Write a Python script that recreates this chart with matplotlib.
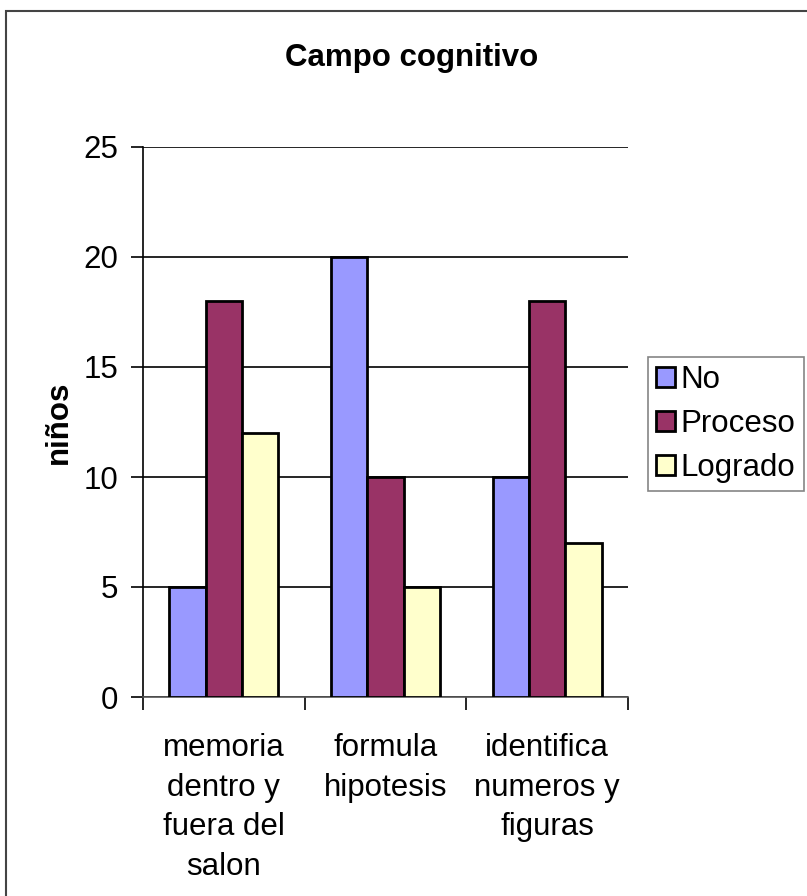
import numpy as np
import matplotlib.pyplot as plt
from matplotlib.patches import Rectangle

categories = ["memoria\ndentro y\nfuera del\nsalon", "formula\nhipotesis", "identifica\nnumeros y\nfiguras"]
no = [5, 20, 10]
proceso = [18, 10, 18]
logrado = [12, 5, 7]
series_names = ["No", "Proceso", "Logrado"]
colors = ["#9999FF", "#993366", "#FFFFCC"]

plt.rcParams['font.family'] = ['Liberation Sans', 'DejaVu Sans']
fs = 22.5

fig = plt.figure(figsize=(8.07, 8.96), dpi=100)
# chart border (only top/left visible in the frame)
fig.patches.append(Rectangle((6 / 807, -0.5), 2, 1.5 - 11 / 896, transform=fig.transFigure,
                             fill=False, edgecolor="#444444", linewidth=1.5))

ax = fig.add_axes([143 / 807, 1 - 697 / 896, 485 / 807, 550 / 896])
x = np.arange(len(categories))
w = 0.225
for i, (vals, name, c) in enumerate(zip([no, proceso, logrado], series_names, colors)):
    ax.bar(x + (i - 1) * w, vals, w, color=c, edgecolor="black", linewidth=2,
           label=name, zorder=3)

ax.set_xlim(-0.5, 2.5)
ax.set_ylim(0, 25)
ax.set_yticks(range(0, 26, 5))
ax.yaxis.grid(True, color="black", linewidth=1.2)
ax.set_axisbelow(True)
ax.set_xticks([-0.5, 0.5, 1.5, 2.5], minor=False)
ax.set_xticklabels([])
ax.set_xticks(x, minor=True)
ax.set_xticklabels(categories, minor=True, fontsize=fs, linespacing=1.42)
ax.tick_params(axis="x", which="minor", length=0, pad=26)
ax.tick_params(axis="x", which="major", length=9, width=1.2, direction="out")
ax.tick_params(axis="y", length=9, width=1.2, labelsize=fs, pad=9)
for s in ["top", "right"]:
    ax.spines[s].set_visible(False)
ax.spines["left"].set_linewidth(1.2)
ax.spines["bottom"].set_linewidth(1.2)
ax.spines["bottom"].set_color("#555555")

ax.set_ylabel("niños", fontsize=fs, fontweight="bold", labelpad=7)
fig.text(412 / 807, 1 - 58 / 896, "Campo cognitivo", fontsize=fs, fontweight="bold",
         ha="center", va="center")

leg = ax.legend(loc="center left", bbox_to_anchor=(648 / 807, 1 - 424 / 896),
                bbox_transform=fig.transFigure, fontsize=fs, frameon=True,
                fancybox=False, edgecolor="#666666", handlelength=0.6, handleheight=0.6,
                handletextpad=0.2, borderpad=0.25, labelspacing=0.45, borderaxespad=0)
leg.get_frame().set_linewidth(1.2)
for p in leg.get_patches():
    p.set_linewidth(2)

fig.savefig("out.png", dpi=100)
